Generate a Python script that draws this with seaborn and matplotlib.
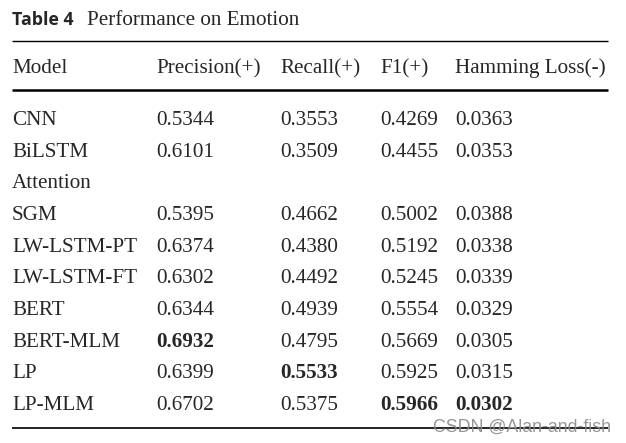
import numpy as np
import matplotlib.pyplot as plt
import seaborn as sns

# table contents
title_bold = "Table 4"
title_text = "Performance on Emotion"
columns = ["Model", "Precision(+)", "Recall(+)", "F1(+)", "Hamming Loss(-)"]
models = ["CNN", "BiLSTM", "Attention", "SGM", "LW-LSTM-PT", "LW-LSTM-FT",
          "BERT", "BERT-MLM", "LP", "LP-MLM"]
precision = [0.5344, 0.6101, None, 0.5395, 0.6374, 0.6302, 0.6344, 0.6932, 0.6399, 0.6702]
recall = [0.3553, 0.3509, None, 0.4662, 0.4380, 0.4492, 0.4939, 0.4795, 0.5533, 0.5375]
f1 = [0.4269, 0.4455, None, 0.5002, 0.5192, 0.5245, 0.5554, 0.5669, 0.5925, 0.5966]
hamming = [0.0363, 0.0353, None, 0.0388, 0.0338, 0.0339, 0.0329, 0.0305, 0.0315, 0.0302]
watermark = "CSDN @Alan-and-fish"

sns.set_theme(style="white")
plt.rcParams['font.family'] = ['Liberation Serif', 'DejaVu Serif']

fig = plt.figure(figsize=(6.26, 4.43), dpi=100)
ax = fig.add_axes([0, 0, 1, 1])
ax.set_xlim(0, 626)
ax.set_ylim(443, 0)
ax.axis('off')

fs = 15.2
col_x = [12, 156, 280, 380, 455]

# title
ax.text(12, 25, title_bold, fontsize=12.8, fontweight='bold', family='Open Sans', va='baseline')
ax.text(87, 25, title_text, fontsize=fs, va='baseline')

# rules
ax.hlines(41, 12, 608, color='black', lw=1.0)
ax.hlines(90, 12, 608, color='black', lw=1.8)
ax.hlines(428, 12, 608, color='black', lw=1.2)

# header
for x, c in zip(col_x, columns):
    ax.text(x, 73, c, fontsize=fs, va='baseline')

# best values are bold
cols = [precision, recall, f1, hamming]
best = []
for i, col in enumerate(cols):
    vals = [v for v in col if v is not None]
    best.append(min(vals) if i == 3 else max(vals))

for r, m in enumerate(models):
    y = 125 + r * 31.67
    ax.text(col_x[0], y, m, fontsize=fs, va='baseline')
    for j, col in enumerate(cols):
        v = col[r]
        if v is None:
            continue
        ax.text(col_x[j + 1], y, f"{v:.4f}", fontsize=fs, va='baseline',
                fontweight='bold' if v == best[j] else 'normal')

ax.text(433, 432, watermark, fontsize=12.8, color='#8a8a8a', family='Liberation Sans',
        va='baseline', alpha=0.9)

fig.savefig("out.png", dpi=100)
